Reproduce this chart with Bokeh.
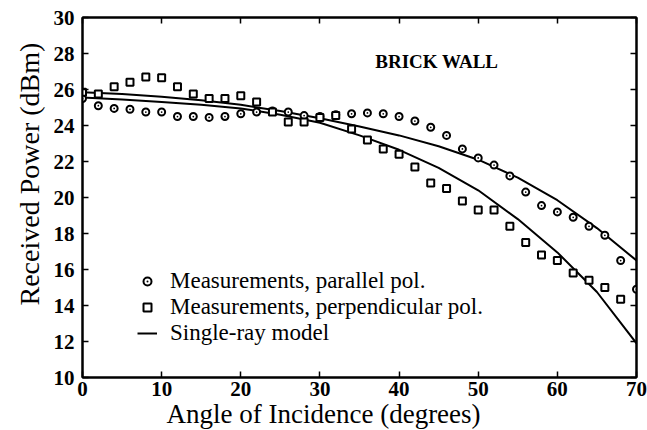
from bokeh.plotting import figure
from bokeh.models import Range1d, LinearAxis, FixedTicker, Legend, LegendItem, Label, Title
from bokeh.embed import file_html
from bokeh.resources import INLINE

# ---- data ----
angles_par = [0, 2, 4, 6, 8, 10, 12, 14, 16, 18, 20, 22, 24, 26, 28, 30, 32, 34,
              36, 38, 40, 42, 44, 46, 48, 50, 52, 54, 56, 58, 60, 62, 64, 66, 68, 70]
power_par = [25.5, 25.1, 24.95, 24.9, 24.75, 24.75, 24.5, 24.5, 24.45, 24.5, 24.65, 24.75,
             24.8, 24.75, 24.55, 24.5, 24.6, 24.65, 24.7, 24.65, 24.5, 24.25, 23.9, 23.45,
             22.7, 22.2, 21.8, 21.2, 20.3, 19.55, 19.2, 18.9, 18.4, 17.9, 16.5, 14.9]

angles_perp = [0, 2, 4, 6, 8, 10, 12, 14, 16, 18, 20, 22, 24, 26, 28, 30, 32, 34,
               36, 38, 40, 42, 44, 46, 48, 50, 52, 54, 56, 58, 60, 62, 64, 66, 68]
power_perp = [25.85, 25.75, 26.15, 26.4, 26.7, 26.65, 26.15, 25.75, 25.5, 25.5, 25.65, 25.3,
              24.75, 24.2, 24.2, 24.45, 24.55, 23.8, 23.2, 22.7, 22.4, 21.7, 20.8, 20.5,
              19.8, 19.3, 19.3, 18.4, 17.5, 16.8, 16.5, 15.8, 15.4, 15.0, 14.35]

model_angles = [0, 5, 10, 15, 20, 25, 30, 35, 40, 45, 50, 55, 60, 65, 70]
model_par = [25.85, 25.75, 25.6, 25.4, 25.15, 24.8, 24.4, 23.95, 23.45, 22.85, 22.1, 21.1,
             19.85, 18.3, 16.5]
model_perp = [25.55, 25.45, 25.3, 25.15, 24.95, 24.6, 24.15, 23.45, 22.65, 21.65, 20.4,
              18.8, 16.95, 14.75, 11.9]

x_ticks = [0, 10, 20, 30, 40, 50, 60, 70]
y_ticks = [10, 12, 14, 16, 18, 20, 22, 24, 26, 28, 30]

x_title = "Angle of Incidence (degrees)"
y_title = "Received Power (dBm)"
panel_title = "BRICK WALL"

FONT = "Liberation Serif"

p = figure(width=647, height=430, x_range=Range1d(0, 70), y_range=Range1d(10, 30),
           output_backend="svg", toolbar_location=None,
           min_border_left=82, min_border_right=11, min_border_top=17, min_border_bottom=53)
p.background_fill_color = "white"
p.border_fill_color = "white"
p.outline_line_color = "black"
p.outline_line_width = 2
p.xgrid.visible = False
p.ygrid.visible = False


def style_axis(ax, ticks, show_labels=True):
    ax.ticker = FixedTicker(ticks=ticks)
    ax.axis_line_width = 2
    ax.axis_line_color = "black"
    ax.major_tick_in = 6
    ax.major_tick_out = 0
    ax.major_tick_line_width = 1.5
    ax.minor_tick_line_color = None
    if show_labels:
        ax.major_label_text_font = FONT
        ax.major_label_text_font_size = "21px"
        ax.major_label_text_font_style = "bold"
        ax.major_label_text_color = "black"
    else:
        ax.major_label_text_font_size = "0px"
        ax.major_label_standoff = 0
        ax.major_label_overrides = {t: "" for t in ticks}


xa = p.xaxis[0]
ya = p.yaxis[0]
style_axis(xa, x_ticks)
style_axis(ya, y_ticks)
xa.major_label_standoff = 4
ya.major_label_standoff = 8

top = LinearAxis()
style_axis(top, x_ticks, show_labels=False)
right = LinearAxis()
style_axis(right, y_ticks, show_labels=False)
p.add_layout(top, "above")
p.add_layout(right, "right")

# axis titles as Title annotations so they can sit off-centre like the reference
p.add_layout(Title(text=x_title, align="left", offset=84, standoff=-4,
                   text_font=FONT, text_font_size="27px", text_font_style="normal",
                   text_color="black"), "below")
p.add_layout(Title(text=y_title, align="left", offset=72, standoff=11,
                   text_font=FONT, text_font_size="28px", text_font_style="normal",
                   text_color="black"), "left")

l_par = p.line(model_angles, model_par, line_color="black", line_width=2)
l_perp = p.line(model_angles, model_perp, line_color="black", line_width=2)
r_par = p.scatter(angles_par, power_par, marker="circle_dot", size=7,
                  line_color="black", fill_color="white", line_width=2)
r_perp = p.scatter(angles_perp, power_perp, marker="square", size=7,
                   line_color="black", fill_color="white", line_width=2)

legend = Legend(items=[
    LegendItem(label="Measurements, parallel pol.", renderers=[r_par]),
    LegendItem(label="Measurements, perpendicular pol.", renderers=[r_perp]),
    LegendItem(label="Single-ray model", renderers=[l_par]),
], location=(55, 31))
legend.label_text_font = FONT
legend.label_text_font_size = "23px"
legend.label_text_color = "black"
legend.glyph_width = 20
legend.glyph_height = 24
legend.label_height = 24
legend.label_standoff = 13
legend.spacing = 0
legend.padding = 0
legend.margin = 0
legend.border_line_alpha = 0
legend.background_fill_alpha = 0
p.add_layout(legend)

p.add_layout(Label(x=37, y=27.55, text=panel_title, text_font=FONT,
                   text_font_size="19px", text_font_style="bold", text_baseline="middle",
                   text_color="black"))

open("out.html", "w").write(file_html(p, INLINE))
